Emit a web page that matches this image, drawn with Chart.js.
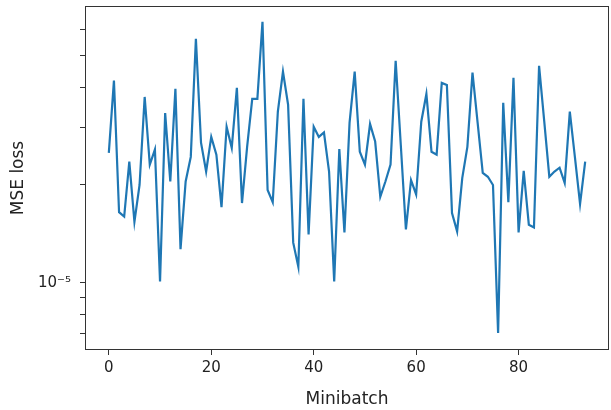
<!DOCTYPE html>
<html>
<head>
<meta charset="utf-8">
<script src="https://cdn.jsdelivr.net/npm/chart.js@4"></script>
<style>
  html, body { margin: 0; padding: 0; background: #fff; }
  canvas { display: block; }
</style>
</head>
<body>
<canvas id="loss-chart" width="611" height="410"></canvas>
<script>
// MSE loss per minibatch (log scale)
var lossValues = [
  2.51e-5, 4.19e-5, 1.65e-5, 1.60e-5, 2.36e-5, 1.54e-5, 2.00e-5, 3.73e-5, 2.31e-5, 2.57e-5,
  1.01e-5, 3.33e-5, 2.05e-5, 3.95e-5, 1.27e-5, 2.05e-5, 2.44e-5, 5.63e-5, 2.70e-5, 2.20e-5,
  2.81e-5, 2.48e-5, 1.71e-5, 3.02e-5, 2.60e-5, 3.98e-5, 1.76e-5, 2.62e-5, 3.68e-5, 3.68e-5,
  6.35e-5, 1.93e-5, 1.77e-5, 3.36e-5, 4.46e-5, 3.53e-5, 1.33e-5, 1.12e-5, 3.68e-5, 1.41e-5,
  3.02e-5, 2.81e-5, 2.90e-5, 2.20e-5, 1.01e-5, 2.58e-5, 1.43e-5, 3.11e-5, 4.46e-5, 2.53e-5,
  2.31e-5, 3.08e-5, 2.72e-5, 1.84e-5, 2.05e-5, 2.31e-5, 4.82e-5, 2.66e-5, 1.46e-5, 2.07e-5,
  1.87e-5, 3.13e-5, 3.81e-5, 2.53e-5, 2.48e-5, 4.12e-5, 4.06e-5, 1.64e-5, 1.44e-5, 2.10e-5,
  2.62e-5, 4.43e-5, 3.11e-5, 2.18e-5, 2.12e-5, 2.00e-5, 7.02e-6, 3.58e-5, 1.77e-5, 4.27e-5,
  1.43e-5, 2.21e-5, 1.51e-5, 1.48e-5, 4.65e-5, 3.15e-5, 2.12e-5, 2.20e-5, 2.26e-5, 2.03e-5,
  3.36e-5, 2.43e-5, 1.75e-5, 2.36e-5
];

var xTicks = [0, 20, 40, 60, 80];
var yTicks = [7e-6, 8e-6, 9e-6, 1e-5, 2e-5, 3e-5, 4e-5, 5e-5, 6e-5];
var yLabeled = { "0.00001": "10\u207B\u2075" };

var lineColour = "#1f77b4";
var textColour = "#222222";

var points = lossValues.map(function (v, i) {
  return { x: i, y: v };
});

// matplotlib style box around the plot area
var frame = {
  id: "frame",
  afterDraw: function (chart) {
    var a = chart.chartArea;
    var ctx = chart.ctx;
    ctx.save();
    ctx.strokeStyle = "#333333";
    ctx.lineWidth = 1;
    ctx.strokeRect(a.left + 0.5, a.top + 0.5, a.right - a.left - 1, a.bottom - a.top - 1);
    ctx.restore();
  }
};

new Chart(document.getElementById("loss-chart"), {
  type: "line",
  data: {
    datasets: [{
      data: points,
      borderColor: lineColour,
      borderWidth: 2.2,
      pointRadius: 0,
      tension: 0,
      fill: false
    }]
  },
  options: {
    responsive: false,
    animation: false,
    layout: { padding: { left: 0, right: 2, top: 6, bottom: 0 } },
    plugins: {
      legend: { display: false },
      tooltip: { enabled: false }
    },
    scales: {
      x: {
        type: "linear",
        min: -4.65,
        max: 97.65,
        afterBuildTicks: function (scale) {
          scale.ticks = xTicks.map(function (v) { return { value: v }; });
        },
        afterFit: function (scale) {
          scale.height = 60;
          scale.paddingLeft = 0;
          scale.paddingRight = 0;
        },
        border: { display: false },
        grid: {
          drawOnChartArea: false,
          drawTicks: true,
          tickLength: 5,
          tickColor: "#333333"
        },
        ticks: {
          autoSkip: false,
          maxRotation: 0,
          padding: 4,
          color: textColour,
          font: { family: "DejaVu Sans", size: 15 }
        },
        title: {
          display: true,
          text: "Minibatch",
          color: textColour,
          padding: { top: 9, bottom: 0 },
          font: { family: "DejaVu Sans", size: 17 }
        }
      },
      y: {
        type: "logarithmic",
        min: 6.22e-6,
        max: 7.1e-5,
        afterBuildTicks: function (scale) {
          scale.ticks = yTicks.map(function (v) { return { value: v }; });
        },
        afterFit: function (scale) {
          scale.width = 85;
          scale.paddingTop = 0;
          scale.paddingBottom = 0;
        },
        border: { display: false },
        grid: {
          drawOnChartArea: false,
          drawTicks: true,
          tickLength: 5,
          tickColor: "#333333"
        },
        ticks: {
          autoSkip: false,
          padding: 9,
          color: textColour,
          font: { family: "DejaVu Sans", size: 15 },
          callback: function (value) {
            return yLabeled[String(value)] || "";
          }
        },
        title: {
          display: true,
          text: "MSE loss",
          color: textColour,
          padding: { top: 8, bottom: 0 },
          font: { family: "DejaVu Sans", size: 17 }
        }
      }
    }
  },
  plugins: [frame]
});
</script>
</body>
</html>
